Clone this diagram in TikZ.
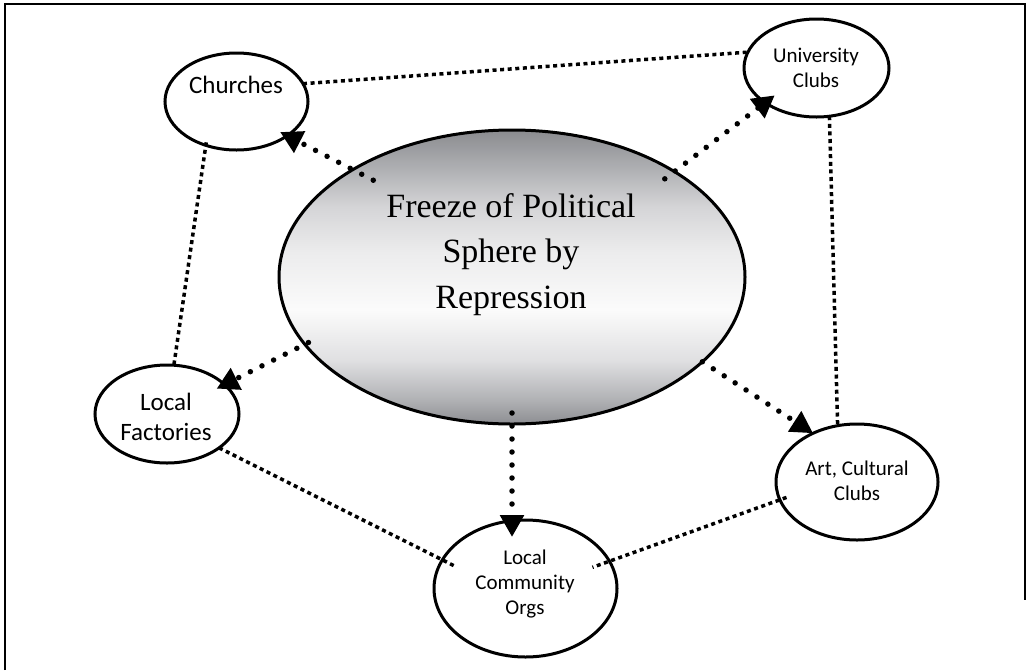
\documentclass[tikz,border=0pt]{standalone}
\usepackage{fontspec}
\setmainfont{Liberation Serif}
\newfontfamily\calib{Carlito}
\usetikzlibrary{arrows.meta,shapes.geometric}

\definecolor{fzgray}{RGB}{138,139,143}
\definecolor{shA}{RGB}{176,177,180}
\definecolor{shB}{RGB}{213,213,215}
\definecolor{shC}{RGB}{236,236,237}
\definecolor{shD}{RGB}{251,251,251}
\definecolor{shE}{RGB}{224,224,226}
% vertical shading for the central ellipse, laid over a square as wide as the ellipse
\pgfdeclareverticalshading{freezeshade}{100bp}{color(0bp)=(fzgray); color(34bp)=(fzgray);
  color(36.8bp)=(shA); color(41.1bp)=(shE); color(46.5bp)=(shD); color(52.6bp)=(shC);
  color(57.5bp)=(shB); color(61.5bp)=(shA); color(65.8bp)=(fzgray); color(100bp)=(fzgray)}

\begin{document}
\begin{tikzpicture}[x=1pt,y=-1pt,
  orb/.style={ellipse, draw, line width=3pt, inner sep=0pt, outer sep=0pt, fill=white},
  hub/.style={ellipse, draw, line width=3pt, inner sep=0pt, outer sep=0pt,
    path picture={\shade[shading=freezeshade]
      (path picture bounding box.center) +(-233pt,-233pt) rectangle +(233pt,233pt);}},
  lbl/.style={font=\calib\fontsize{25}{30}\selectfont, align=center, inner sep=0pt, anchor=base},
  lbls/.style={font=\calib\fontsize{21}{25}\selectfont, align=center, inner sep=0pt, anchor=base},
  push/.style={line width=5.5pt, line cap=round, dash pattern=on 0pt off 13pt,
    -{Triangle[length=22pt,width=23pt]}},
  link/.style={line width=3.5pt, dash pattern=on 4pt off 3.6pt},
]
\useasboundingbox (0,0) rectangle (1028,670);

% frame
\draw[line width=2pt] (5,670) -- (5,4) -- (1025,4) -- (1025,600);

% ellipses
\node[hub, minimum width=466pt, minimum height=294pt] (fz) at (512,277) {};
\node[orb, minimum width=143pt, minimum height=97pt] (ch) at (236.5,101.5) {};
\node[orb, minimum width=145pt, minimum height=98pt] (uc) at (816.5,68) {};
\node[orb, minimum width=144pt, minimum height=98pt] (lf) at (167,414) {};
\node[orb, minimum width=162pt, minimum height=116pt] (ac) at (857,482) {};
\node[orb, minimum width=183pt, minimum height=137pt] (lco) at (525.5,588.5) {};

% labels (base anchor sits on the last line)
\node[font=\fontsize{34}{45.5}\selectfont, align=center, inner sep=0pt, anchor=base]
  (fzT) at (511,308) {Freeze of Political\\Sphere by\\Repression};
\node[lbl] (chT) at (236,93) {Churches};
\node[lbls] (ucT) at (816,87) {University\\Clubs};
\node[lbl] (lfT) at (166,440) {Local\\Factories};
\node[lbls] (acT) at (857,500) {Art, Cultural\\Clubs};
\node[lbls] (lcoT) at (525,614) {Local\\Community\\Orgs};

% dotted links between the groups
\draw[link] (ch.15) -- (uc.167);
\draw[link, shorten <=-3pt] (ch.235) -- (lf.82);
\draw[link] (uc.285) -- (ac.109);
\draw[link, shorten >=-14pt] (lf.327) -- (lco.161);
\draw[link, shorten <=-7pt, shorten >=-18pt] (ac.193) -- (lco.18);

% arrows out of the centre
\draw[push, shorten <=-23pt, shorten >=-8pt] (fz.146) -- (ch.-34);
\draw[push, shorten <=-12pt, shorten >=-12pt] (fz.33) -- (uc.214);
\draw[push, shorten <=-4pt, shorten >=-9pt] (fz.198) -- (lf.27);
\draw[push] (fz.-24) -- (ac.132);
\draw[push, shorten <=-11pt, shorten >=-17pt] (fz.south) -- (fz.south |- lco.north);
\end{tikzpicture}
\end{document}
